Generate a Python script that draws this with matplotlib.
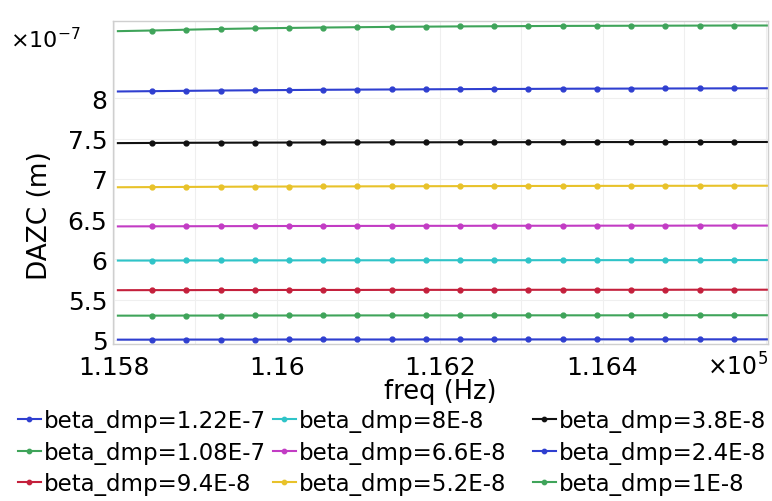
import numpy as np
import matplotlib
matplotlib.use("Agg")
import matplotlib.pyplot as plt
from matplotlib.ticker import FuncFormatter, MultipleLocator

# frequency sweep (Hz)
freq = [115805, 115847, 115889, 115931, 115973, 116015, 116057, 116099, 116141, 116183,
        116225, 116267, 116309, 116351, 116393, 116435, 116477, 116519, 116561, 116603]

beta_labels = ["1.22E-7", "1.08E-7", "9.4E-8", "8E-8", "6.6E-8", "5.2E-8", "3.8E-8", "2.4E-8", "1E-8"]
colors = ["#2f3fd0", "#3fa45a", "#c4203c", "#2fc4c8", "#c23cc4", "#e8c22a", "#111111", "#2f3fd0", "#3fa45a"]

# DAZC in units of 1e-7 m, one list per beta_dmp
dazc_122 = [5.004, 5.004, 5.005, 5.005, 5.005, 5.006, 5.006, 5.006, 5.006, 5.007,
            5.007, 5.007, 5.007, 5.007, 5.008, 5.008, 5.008, 5.008, 5.008, 5.008]
dazc_108 = [5.302, 5.302, 5.303, 5.303, 5.304, 5.304, 5.304, 5.305, 5.305, 5.305,
            5.305, 5.306, 5.306, 5.306, 5.306, 5.306, 5.307, 5.307, 5.307, 5.307]
dazc_094 = [5.618, 5.619, 5.619, 5.620, 5.620, 5.621, 5.621, 5.621, 5.622, 5.622,
            5.622, 5.622, 5.623, 5.623, 5.623, 5.623, 5.623, 5.624, 5.624, 5.624]
dazc_080 = [5.986, 5.986, 5.987, 5.987, 5.988, 5.988, 5.989, 5.989, 5.989, 5.990,
            5.990, 5.990, 5.990, 5.991, 5.991, 5.991, 5.991, 5.991, 5.992, 5.992]
dazc_066 = [6.410, 6.411, 6.412, 6.413, 6.414, 6.415, 6.415, 6.416, 6.416, 6.417,
            6.417, 6.418, 6.418, 6.418, 6.419, 6.419, 6.419, 6.420, 6.420, 6.420]
dazc_052 = [6.896, 6.898, 6.900, 6.902, 6.904, 6.905, 6.906, 6.907, 6.908, 6.909,
            6.910, 6.911, 6.912, 6.912, 6.913, 6.913, 6.914, 6.914, 6.915, 6.915]
dazc_038 = [7.444, 7.446, 7.448, 7.449, 7.450, 7.451, 7.452, 7.453, 7.454, 7.454,
            7.455, 7.455, 7.456, 7.456, 7.457, 7.457, 7.457, 7.458, 7.458, 7.458]
dazc_024 = [8.085, 8.089, 8.093, 8.097, 8.100, 8.103, 8.106, 8.108, 8.110, 8.112,
            8.114, 8.116, 8.117, 8.119, 8.120, 8.121, 8.122, 8.123, 8.124, 8.125]
dazc_010 = [8.834, 8.842, 8.852, 8.861, 8.868, 8.874, 8.879, 8.883, 8.887, 8.890,
            8.893, 8.895, 8.897, 8.899, 8.900, 8.901, 8.902, 8.903, 8.904, 8.904]

series = [dazc_122, dazc_108, dazc_094, dazc_080, dazc_066, dazc_052, dazc_038, dazc_024, dazc_010]

fig = plt.figure(figsize=(7.72, 5.02), dpi=100)
ax = fig.add_axes([113 / 772, 1 - 345 / 502, 655 / 772, 323 / 502])

lines = []
for lab, c, vals in zip(beta_labels, colors, series):
    ln, = ax.plot(freq, np.array(vals) * 1e-7, color=c, linewidth=1.5, marker='o', markersize=3.5,
                  markevery=slice(1, 19), label=f"beta_dmp={lab}")
    lines.append(ln)

ax.set_xlim(115799, 116603)
ax.set_ylim(4.95e-7, 8.96e-7)
ax.set_xticks([115800, 116000, 116200, 116400])
ax.set_yticks([5e-7, 5.5e-7, 6e-7, 6.5e-7, 7e-7, 7.5e-7, 8e-7])
ax.xaxis.set_major_formatter(FuncFormatter(lambda v, p: f"{v / 1e5:g}"))
ax.yaxis.set_major_formatter(FuncFormatter(lambda v, p: f"{v / 1e-7:g}"))
ax.xaxis.set_minor_locator(MultipleLocator(100))
ax.tick_params(which='both', length=0, labelsize=18)
ax.tick_params(axis='x', pad=8)
ax.tick_params(axis='y', pad=4)

ax.grid(which='both', color='#efefef', linewidth=0.8)
ax.set_axisbelow(True)
for s in ax.spines.values():
    s.set_color('#cfcfcf')
    s.set_linewidth(1)

ax.set_xlabel("freq (Hz)", fontsize=18.5)
ax.xaxis.set_label_coords(0.5, -0.105)
ax.set_ylabel("DAZC (m)", fontsize=19)
ax.yaxis.set_label_coords(-0.092, 0.40)

# scale factors for the axes
fig.text(10 / 772, 1 - 40 / 502, r"$\times10^{-7}$", fontsize=16, va='center', ha='left')
fig.text(768 / 772, 1 - 367 / 502, r"$\times10^{5}$", fontsize=17, va='center', ha='right')

# legend: three fixed-width columns below the axes
col_x = [18, 273, 533]
for i, x0 in enumerate(col_x):
    leg = fig.legend(handles=lines[3 * i:3 * i + 3], loc='upper left',
                     bbox_to_anchor=(x0 / 772, 1 - 410 / 502), frameon=False,
                     fontsize=16.5, handlelength=1.0, handletextpad=0.15,
                     labelspacing=0.38, borderpad=0, borderaxespad=0, numpoints=1,
                     markerscale=0.9)

fig.savefig("out.png", dpi=100)
